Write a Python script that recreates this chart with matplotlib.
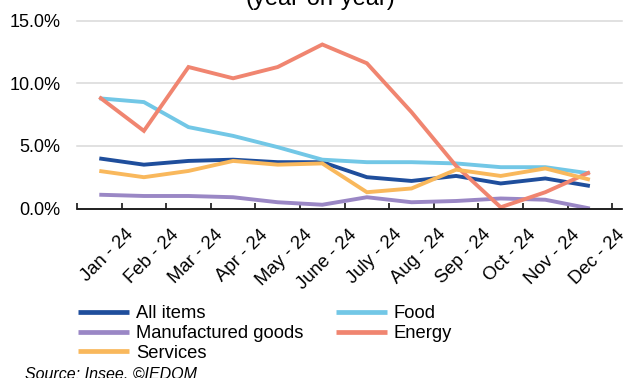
import numpy as np
import matplotlib
matplotlib.use('Agg')
import matplotlib.pyplot as plt
from matplotlib.ticker import FuncFormatter

plt.rcParams['font.family'] = ['Liberation Sans', 'DejaVu Sans']

# ── data: consumer prices, year-on-year change (%) ──
months = ['Jan - 24', 'Feb - 24', 'Mar - 24', 'Apr - 24', 'May - 24', 'June - 24',
          'July - 24', 'Aug - 24', 'Sep - 24', 'Oct - 24', 'Nov - 24', 'Dec - 24']
all_items     = [4.0, 3.5, 3.8, 3.9, 3.7, 3.7, 2.5, 2.2, 2.6, 2.0, 2.4, 1.8]
food          = [8.8, 8.5, 6.5, 5.8, 4.9, 3.9, 3.7, 3.7, 3.6, 3.3, 3.3, 2.8]
manufactured  = [1.1, 1.0, 1.0, 0.9, 0.5, 0.3, 0.9, 0.5, 0.6, 0.8, 0.7, 0.0]
energy        = [8.9, 6.2, 11.3, 10.4, 11.3, 13.1, 11.6, 7.7, 3.4, 0.1, 1.3, 2.9]
services      = [3.0, 2.5, 3.0, 3.8, 3.5, 3.6, 1.3, 1.6, 3.1, 2.6, 3.2, 2.3]
y_ticks = [0, 5, 10, 15]

series = [
    ('All items', all_items, '#1F4E9C'),
    ('Food', food, '#72C7E6'),
    ('Manufactured goods', manufactured, '#9A87C5'),
    ('Energy', energy, '#F08570'),
    ('Services', services, '#F9B85C'),
]

fig = plt.figure(figsize=(6.44, 3.78), dpi=100)
ax = fig.add_axes([77 / 644, 1 - 208.5 / 378, 545 / 644, (208.5 - 20.7) / 378])

x = np.arange(len(months))
lines = {}
for name, vals, color in series:
    lines[name], = ax.plot(x, vals, color=color, linewidth=2.8, solid_capstyle='butt',
                           solid_joinstyle='miter', label=name, zorder=3)

ax.set_xlim(-0.5, len(months) - 0.5)
ax.set_ylim(0, 15)

# y axis: gridlines only, no spine
ax.set_yticks(y_ticks)
ax.yaxis.set_major_formatter(FuncFormatter(lambda v, _: f'{v:.1f}%'))
ax.tick_params(axis='y', length=0, pad=12, labelsize=13)
ax.grid(axis='y', color='#D9D9D9', linewidth=1.1)
for gl in ax.get_ygridlines():
    gl.set_clip_on(False)
ax.set_axisbelow(True)

for side in ['left', 'right', 'top']:
    ax.spines[side].set_visible(False)
ax.spines['bottom'].set_color('black')
ax.spines['bottom'].set_linewidth(1.2)
ax.spines['bottom'].set_zorder(4)

# category boundary ticks (inside), labels on minor ticks
ax.set_xticks(np.arange(-0.5, len(months), 1.0))
ax.set_xticklabels([])
ax.tick_params(axis='x', which='major', direction='in', length=4, width=1.1, color='black')
ax.set_xticks(x + 0.72, minor=True)
ax.set_xticklabels(months, minor=True)
ax.tick_params(axis='x', which='minor', length=0, pad=17, labelsize=13.3)
for lbl in ax.get_xticklabels(minor=True):
    lbl.set_rotation(45)
    lbl.set_ha('right')
    lbl.set_va('center')
    lbl.set_rotation_mode('anchor')

fig.text(0.498, 1 - 5 / 378, '(year-on-year)', ha='center', va='baseline', fontsize=17)

order = ['All items', 'Manufactured goods', 'Services', 'Food', 'Energy']
fig.legend([lines[n] for n in order], order, loc='upper left',
           bbox_to_anchor=(78 / 644, 1 - 305 / 378), ncol=2, frameon=False,
           fontsize=13.2, handlelength=2.8, handletextpad=0.35, columnspacing=1.8,
           labelspacing=0.16, borderpad=0, borderaxespad=0)
for h in fig.legends[0].legend_handles:
    h.set_linewidth(3.4)

fig.text(25 / 644, 1 - 379 / 378, 'Source: Insee, ©IEDOM', ha='left', va='baseline',
         fontsize=11.5, style='italic')

fig.savefig('out.png', dpi=100)
